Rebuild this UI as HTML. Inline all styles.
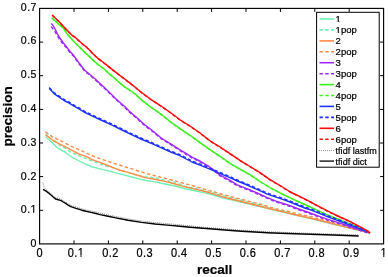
<!DOCTYPE html>
<html><head><meta charset="utf-8"><style>
html,body{margin:0;padding:0;background:#fff;width:388px;height:277px;overflow:hidden}
svg{display:block}
#w{will-change:transform;width:388px;height:277px;background:#fff}
text{font-family:"Liberation Sans",sans-serif;fill:#000;stroke:#000;stroke-width:0.22px}
</style></head><body>
<div id="w"><svg width="388" height="277" viewBox="0 0 388 277">
<rect x="0" y="0" width="388" height="277" fill="#fff"/>

<polyline points="45.5,136.8 50.0,140.5 54.0,144.6 56.9,147.5 61.2,150.2 64.8,152.0 72.0,157.3 76.3,159.5 84.0,163.3 92.0,166.8 99.2,168.6 106.4,170.4 112.0,171.9 120.0,173.9 130.0,176.5 140.0,179.1 145.0,180.2 155.0,181.9 165.0,184.0 175.0,186.0 185.0,188.7 195.0,190.8 205.0,192.9 215.0,195.5 225.0,198.6 235.0,200.6 245.0,203.0 255.0,205.4 265.0,207.9 272.0,209.6 282.0,211.9 292.0,214.3 302.0,216.6 310.0,218.3 325.0,222.1 340.0,225.9 355.0,229.4 370.0,232.9" fill="none" stroke="#6ef0b4" stroke-width="1.4" stroke-linejoin="round"/>
<polyline points="45.5,132.5 51.6,136.1 54.6,140.6 59.2,144.7 65.2,148.2 69.3,151.4 78.0,155.4 88.0,159.5 98.0,163.1 105.0,165.8 115.0,168.4 125.0,171.5 135.0,174.6 145.0,176.8 155.0,177.8 165.0,180.4 175.0,182.4 185.0,186.2 195.0,188.2 205.0,190.8 215.0,193.4 225.0,196.1 235.0,198.8 245.0,201.3 255.0,203.8 265.0,206.3 272.0,208.6 282.0,211.0 292.0,213.5 302.0,216.0 310.0,217.8 325.0,221.7 340.0,225.6 355.0,229.2 370.0,232.9" fill="none" stroke="#6ef0b4" stroke-width="1.4" stroke-dasharray="3.4 2.4" stroke-linejoin="round"/>
<polyline points="45.5,134.6 52.1,139.8 54.0,141.2 61.2,144.8 68.4,148.4 74.0,151.5 79.2,154.1 86.4,156.6 92.0,159.6 99.2,162.1 106.4,165.0 112.0,167.2 120.0,170.3 130.0,172.9 140.0,176.0 145.0,177.6 155.0,179.3 165.0,181.4 175.0,184.0 185.0,186.8 195.0,189.1 205.0,191.5 215.0,194.4 225.0,197.5 235.0,200.0 245.0,202.5 255.0,205.0 265.0,207.5 272.0,209.3 282.0,211.6 292.0,214.0 302.0,216.2 310.0,218.0 325.0,221.8 340.0,225.6 355.0,229.2 370.0,232.9" fill="none" stroke="#ff8c46" stroke-width="1.4" stroke-linejoin="round"/>
<polyline points="45.5,131.8 52.1,136.6 57.2,139.1 62.2,141.6 67.3,144.2 72.0,146.7 78.0,149.2 88.0,153.9 98.0,158.0 105.0,160.3 115.0,163.7 125.0,166.8 135.0,169.9 145.0,173.1 155.0,175.7 165.0,178.3 175.0,180.9 185.0,183.7 195.0,186.4 205.0,189.3 215.0,192.2 225.0,195.1 235.0,197.7 245.0,200.3 255.0,202.9 265.0,205.4 272.0,207.8 280.0,209.6 292.0,212.4 302.0,214.8 310.0,216.4 325.0,220.6 340.0,224.8 355.0,228.6 370.0,232.9" fill="none" stroke="#ff8c46" stroke-width="1.4" stroke-dasharray="3.4 2.4" stroke-linejoin="round"/>
<polyline points="51.4,23.4 54.7,28.2 57.3,33.6 60.2,38.5 63.0,42.5 66.0,46.2 70.0,51.5 73.6,55.3 78.7,62.5 84.4,70.0 91.7,76.0 95.0,78.8 100.0,83.6 105.2,88.2 110.0,92.9 115.5,98.4 120.0,102.4 125.2,107.0 130.0,111.9 135.5,116.5 140.0,120.6 144.7,124.8 151.9,130.2 161.2,138.0 170.7,143.8 179.3,149.4 188.0,154.6 192.0,157.2 200.7,161.5 209.3,166.7 216.3,171.9 220.0,175.1 228.7,179.7 237.3,184.9 246.0,188.4 250.0,190.0 258.7,193.7 267.3,197.6 276.0,201.1 280.0,202.5 288.7,205.2 297.3,208.5 306.0,211.5 310.0,213.0 318.7,216.1 327.3,219.2 340.0,223.1 348.7,226.0 357.3,228.8 370.0,232.9" fill="none" stroke="#a028ff" stroke-width="1.4" stroke-linejoin="round"/>
<polyline points="51.1,26.6 54.5,30.6 57.2,35.5 60.1,40.1 62.9,43.9 66.0,47.4 70.0,52.5 73.6,56.2 78.7,63.4 84.4,70.8 91.7,76.8 95.0,79.6 100.0,84.4 105.2,89.0 110.0,93.7 115.5,99.2 120.0,103.2 125.2,107.8 130.0,112.7 135.5,117.3 140.0,121.4 144.7,125.6 151.9,131.0 161.2,138.8 170.7,144.6 179.3,150.2 188.0,155.4 192.0,158.0 200.7,162.3 209.3,167.5 216.3,172.7 220.0,175.9 228.7,180.5 237.3,185.7 246.0,189.2 250.0,190.8 258.7,194.5 267.3,198.4 276.0,201.9 280.0,203.3 288.7,206.0 297.3,209.3 306.0,212.3 310.0,213.8 318.7,216.9 327.3,220.0 340.0,223.9 348.7,226.8 357.3,229.6 370.0,233.7" fill="none" stroke="#a028ff" stroke-width="1.4" stroke-dasharray="3.4 2.4" stroke-linejoin="round"/>
<polyline points="51.8,17.7 58.0,23.4 63.8,28.5 67.3,34.0 70.3,37.5 73.3,40.9 78.5,46.1 82.5,50.0 86.2,53.9 89.2,56.3 93.2,60.4 98.0,64.5 103.5,68.5 108.6,73.3 115.0,78.5 120.0,83.1 125.0,87.1 130.0,90.3 135.0,93.8 140.0,98.6 150.0,106.5 160.0,113.3 170.0,121.5 180.0,128.6 190.0,135.3 200.0,142.6 210.0,149.6 220.0,156.3 230.0,163.4 240.0,169.1 250.0,174.7 260.0,181.5 270.0,187.5 280.0,192.8 288.7,197.2 297.3,201.1 306.0,205.0 310.0,206.8 318.7,210.9 327.3,214.8 340.0,220.0 348.7,223.4 357.3,226.8 370.0,232.9" fill="none" stroke="#3cf01e" stroke-width="1.4" stroke-linejoin="round"/>
<polyline points="51.8,17.9 58.0,23.6 63.8,28.7 67.3,34.2 70.3,37.7 73.3,41.1 78.5,46.3 82.5,50.2 86.2,54.1 89.2,56.5 93.2,60.6 98.0,64.7 103.5,68.7 108.6,73.5 115.0,78.7 120.0,83.3 125.0,87.3 130.0,90.5 135.0,94.0 140.0,98.8 150.0,106.7 160.0,113.5 170.0,121.7 180.0,128.8 190.0,135.5 200.0,142.8 210.0,149.8 220.0,156.5 230.0,163.6 240.0,169.3 250.0,174.9 260.0,181.7 270.0,187.7 280.0,193.0 288.7,197.4 297.3,201.3 306.0,205.2 310.0,207.0 318.7,211.1 327.3,215.0 340.0,220.2 348.7,223.6 357.3,227.0 370.0,233.1" fill="none" stroke="#3cf01e" stroke-width="1.4" stroke-dasharray="3.4 2.4" stroke-linejoin="round"/>
<polyline points="49.2,88.6 54.3,93.8 59.5,97.4 64.0,100.5 68.7,102.8 74.0,106.2 79.0,108.9 84.0,112.0 92.0,115.9 102.0,120.5 112.0,125.1 122.0,130.0 132.0,134.9 142.0,139.5 152.0,143.6 162.0,148.2 170.7,152.0 179.3,155.3 186.3,159.0 192.0,162.0 200.7,165.4 209.3,168.9 218.0,172.6 228.7,177.1 237.3,181.0 246.0,184.5 250.0,186.3 258.7,190.2 267.3,194.1 276.0,197.2 280.0,198.4 288.7,201.5 297.3,205.0 306.0,208.5 310.0,209.7 318.7,213.1 327.3,216.6 340.0,221.3 348.7,224.6 357.3,227.8 370.0,232.9" fill="none" stroke="#1e32ff" stroke-width="1.4" stroke-linejoin="round"/>
<polyline points="49.2,87.6 54.3,92.8 59.5,96.4 64.0,99.5 68.7,101.8 74.0,105.2 79.0,107.9 84.0,111.0 92.0,114.9 102.0,119.5 112.0,124.1 122.0,129.0 132.0,133.9 142.0,138.5 152.0,142.6 162.0,147.2 170.7,151.0 179.3,154.3 186.3,158.0 192.0,161.0 200.7,164.4 209.3,167.9 218.0,171.6 228.7,176.1 237.3,180.0 246.0,183.5 250.0,185.3 258.7,189.2 267.3,193.1 276.0,196.2 280.0,197.4 288.7,200.5 297.3,204.0 306.0,207.5 310.0,208.7 318.7,212.1 327.3,215.6 340.0,220.3 348.7,223.6 357.3,226.8 370.0,231.9" fill="none" stroke="#1e32ff" stroke-width="1.4" stroke-dasharray="3.4 2.4" stroke-linejoin="round"/>
<polyline points="52.1,14.9 55.5,18.2 59.4,22.0 65.2,28.3 72.3,35.4 74.5,36.8 77.3,39.2 82.0,43.6 86.4,47.0 90.0,50.6 93.3,54.0 98.0,58.4 103.5,62.5 108.0,66.1 112.7,69.9 116.9,73.1 125.0,79.3 130.0,83.1 135.0,87.0 140.0,91.3 145.0,95.0 150.0,98.8 160.0,105.3 170.0,112.3 180.0,119.8 190.0,126.0 200.0,133.0 210.0,140.8 220.0,147.0 230.0,153.6 240.0,160.3 250.0,166.5 260.0,172.7 270.0,179.6 280.0,185.5 290.4,192.0 300.0,196.7 310.0,201.6 313.5,203.6 327.3,210.9 340.0,217.0 348.7,220.9 357.3,225.3 366.0,230.0 370.0,232.9" fill="none" stroke="#ff0a0a" stroke-width="1.4" stroke-linejoin="round"/>
<polyline points="52.1,15.1 55.5,18.4 59.4,22.2 65.2,28.5 72.3,35.6 74.5,37.0 77.3,39.4 82.0,43.8 86.4,47.2 90.0,50.8 93.3,54.2 98.0,58.6 103.5,62.7 108.0,66.3 112.7,70.1 116.9,73.3 125.0,79.5 130.0,83.3 135.0,87.2 140.0,91.5 145.0,95.2 150.0,99.0 160.0,105.5 170.0,112.5 180.0,120.0 190.0,126.2 200.0,133.2 210.0,141.0 220.0,147.2 230.0,153.8 240.0,160.5 250.0,166.7 260.0,172.9 270.0,179.8 280.0,185.7 290.4,192.2 300.0,196.9 310.0,201.8 313.5,203.8 327.3,211.1 340.0,217.2 348.7,221.1 357.3,225.5 366.0,230.2 370.0,233.1" fill="none" stroke="#ff0a0a" stroke-width="1.4" stroke-dasharray="3.4 2.4" stroke-linejoin="round"/>
<polyline points="43.0,182.5 43.6,185.2 44.2,187.6 46.1,189.7 50.1,192.8 55.5,197.6 61.2,199.2 63.2,200.6 66.0,202.3 68.5,203.9 71.5,205.4 76.0,207.0 81.8,208.8 86.0,209.9 91.0,211.0 96.0,212.1 100.0,213.2 108.0,214.9 115.8,216.5 128.0,218.9 141.5,221.0 155.0,222.6 167.3,223.7 180.0,224.9 190.0,225.8 203.0,227.2 215.8,228.2 228.0,229.2 241.5,230.2 255.0,231.0 267.3,231.7 280.0,232.2 295.0,232.8 310.0,233.3 325.0,233.8 340.0,234.2 358.7,235.0" fill="none" stroke="#777" stroke-width="0.9" stroke-dasharray="1 1" stroke-linejoin="round"/>
<polyline points="43.0,189.3 46.1,191.1 50.1,194.2 55.5,199.0 61.2,200.6 63.2,202.0 66.0,203.7 68.5,205.3 71.5,206.8 76.0,208.4 81.8,210.2 86.0,211.3 91.0,212.4 96.0,213.5 100.0,214.6 108.0,216.3 115.8,217.9 128.0,220.3 141.5,222.4 155.0,224.0 167.3,225.1 180.0,226.3 190.0,227.2 203.0,228.2 215.8,229.2 228.0,230.2 241.5,231.2 255.0,232.0 267.3,232.7 280.0,233.2 295.0,233.8 310.0,234.3 325.0,234.8 340.0,235.2 358.7,236.0" fill="none" stroke="#000" stroke-width="1.4" stroke-linejoin="round"/>
<rect x="39.6" y="8.4" width="344.0" height="235.5" fill="none" stroke="#000" stroke-width="1.15"/>
<path d="M74.0 243.9V240.4M74.0 8.4V11.9M108.4 243.9V240.4M108.4 8.4V11.9M142.8 243.9V240.4M142.8 8.4V11.9M177.2 243.9V240.4M177.2 8.4V11.9M211.6 243.9V240.4M211.6 8.4V11.9M246.0 243.9V240.4M246.0 8.4V11.9M280.4 243.9V240.4M280.4 8.4V11.9M314.8 243.9V240.4M314.8 8.4V11.9M349.2 243.9V240.4M349.2 8.4V11.9M39.6 210.3H43.1M383.6 210.3H380.1M39.6 176.6H43.1M383.6 176.6H380.1M39.6 143.0H43.1M383.6 143.0H380.1M39.6 109.4H43.1M383.6 109.4H380.1M39.6 75.7H43.1M383.6 75.7H380.1M39.6 42.1H43.1M383.6 42.1H380.1" stroke="#000" stroke-width="1" fill="none"/>
<text transform="translate(39.83,256.80) scale(0.900,1)" font-size="12.2" letter-spacing="0.50" text-anchor="middle">0</text>
<text transform="translate(76.02,256.80) scale(0.900,1)" font-size="12.2" letter-spacing="0.50" text-anchor="middle">0.1</text>
<text transform="translate(110.42,256.80) scale(0.900,1)" font-size="12.2" letter-spacing="0.50" text-anchor="middle">0.2</text>
<text transform="translate(144.83,256.80) scale(0.900,1)" font-size="12.2" letter-spacing="0.50" text-anchor="middle">0.3</text>
<text transform="translate(179.22,256.80) scale(0.900,1)" font-size="12.2" letter-spacing="0.50" text-anchor="middle">0.4</text>
<text transform="translate(213.62,256.80) scale(0.900,1)" font-size="12.2" letter-spacing="0.50" text-anchor="middle">0.5</text>
<text transform="translate(248.03,256.80) scale(0.900,1)" font-size="12.2" letter-spacing="0.50" text-anchor="middle">0.6</text>
<text transform="translate(282.43,256.80) scale(0.900,1)" font-size="12.2" letter-spacing="0.50" text-anchor="middle">0.7</text>
<text transform="translate(316.83,256.80) scale(0.900,1)" font-size="12.2" letter-spacing="0.50" text-anchor="middle">0.8</text>
<text transform="translate(351.23,256.80) scale(0.900,1)" font-size="12.2" letter-spacing="0.50" text-anchor="middle">0.9</text>
<text transform="translate(383.83,256.80) scale(0.900,1)" font-size="12.2" letter-spacing="0.50" text-anchor="middle">1</text>
<text transform="translate(36.95,247.10) scale(0.900,1)" font-size="11.8" letter-spacing="0.50" text-anchor="end">0</text>
<text transform="translate(36.95,213.30) scale(0.900,1)" font-size="11.8" letter-spacing="0.50" text-anchor="end">0.1</text>
<text transform="translate(36.95,179.50) scale(0.900,1)" font-size="11.8" letter-spacing="0.50" text-anchor="end">0.2</text>
<text transform="translate(36.95,145.70) scale(0.900,1)" font-size="11.8" letter-spacing="0.50" text-anchor="end">0.3</text>
<text transform="translate(36.95,111.90) scale(0.900,1)" font-size="11.8" letter-spacing="0.50" text-anchor="end">0.4</text>
<text transform="translate(36.95,78.10) scale(0.900,1)" font-size="11.8" letter-spacing="0.50" text-anchor="end">0.5</text>
<text transform="translate(36.95,44.30) scale(0.900,1)" font-size="11.8" letter-spacing="0.50" text-anchor="end">0.6</text>
<text transform="translate(36.95,10.50) scale(0.900,1)" font-size="11.8" letter-spacing="0.50" text-anchor="end">0.7</text>
<text x="214.6" y="273.6" font-size="13.5" font-weight="bold" text-anchor="middle">recall</text>
<text transform="translate(11.6,116.4) rotate(-90)" x="0" y="0" font-size="13.6" font-weight="bold" text-anchor="middle">precision</text>
<rect x="316.6" y="12.3" width="62.6" height="154.9" fill="#fff" stroke="#000" stroke-width="1"/>
<line x1="319.5" y1="19.0" x2="334" y2="19.0" stroke="#6ef0b4" stroke-width="1.6"/>
<text x="335.6" y="22.4" font-size="9.5">1</text>
<line x1="319.5" y1="29.9" x2="334" y2="29.9" stroke="#6ef0b4" stroke-width="1.6" stroke-dasharray="3.4 2.4"/>
<text x="335.6" y="33.3" font-size="9.5">1pop</text>
<line x1="319.5" y1="40.9" x2="334" y2="40.9" stroke="#ff8c46" stroke-width="1.6"/>
<text x="335.6" y="44.3" font-size="9.5">2</text>
<line x1="319.5" y1="51.8" x2="334" y2="51.8" stroke="#ff8c46" stroke-width="1.6" stroke-dasharray="3.4 2.4"/>
<text x="335.6" y="55.2" font-size="9.5">2pop</text>
<line x1="319.5" y1="62.7" x2="334" y2="62.7" stroke="#a028ff" stroke-width="1.6"/>
<text x="335.6" y="66.1" font-size="9.5">3</text>
<line x1="319.5" y1="73.7" x2="334" y2="73.7" stroke="#a028ff" stroke-width="1.6" stroke-dasharray="3.4 2.4"/>
<text x="335.6" y="77.1" font-size="9.5">3pop</text>
<line x1="319.5" y1="84.6" x2="334" y2="84.6" stroke="#3cf01e" stroke-width="1.6"/>
<text x="335.6" y="88.0" font-size="9.5">4</text>
<line x1="319.5" y1="95.5" x2="334" y2="95.5" stroke="#3cf01e" stroke-width="1.6" stroke-dasharray="3.4 2.4"/>
<text x="335.6" y="98.9" font-size="9.5">4pop</text>
<line x1="319.5" y1="106.4" x2="334" y2="106.4" stroke="#1e32ff" stroke-width="1.6"/>
<text x="335.6" y="109.8" font-size="9.5">5</text>
<line x1="319.5" y1="117.4" x2="334" y2="117.4" stroke="#1e32ff" stroke-width="1.6" stroke-dasharray="3.4 2.4"/>
<text x="335.6" y="120.8" font-size="9.5">5pop</text>
<line x1="319.5" y1="128.3" x2="334" y2="128.3" stroke="#ff0a0a" stroke-width="1.6"/>
<text x="335.6" y="131.7" font-size="9.5">6</text>
<line x1="319.5" y1="139.2" x2="334" y2="139.2" stroke="#ff0a0a" stroke-width="1.6" stroke-dasharray="3.4 2.4"/>
<text x="335.6" y="142.6" font-size="9.5">6pop</text>
<line x1="319" y1="150.5" x2="334" y2="150.5" stroke="#999" stroke-width="1" stroke-dasharray="1 1"/>
<text x="335.6" y="153.6" font-size="9.5" textLength="41.2" lengthAdjust="spacingAndGlyphs">tfidf lastfm</text>
<line x1="319.5" y1="161.1" x2="334" y2="161.1" stroke="#000" stroke-width="1.3"/>
<text x="335.6" y="164.5" font-size="9.5" textLength="31.2" lengthAdjust="spacingAndGlyphs">tfidf dict</text>
<g transform="translate(76.02,256.80) scale(0.900,1)"><rect x="1.926" y="-1.361" width="3.052" height="2.161" fill="#fff"/><rect x="6.096" y="-1.361" width="2.987" height="2.161" fill="#fff"/></g>
<g transform="translate(383.83,256.80) scale(0.900,1)"><rect x="-3.651" y="-1.361" width="3.052" height="2.161" fill="#fff"/><rect x="0.520" y="-1.361" width="2.987" height="2.161" fill="#fff"/></g>
<g transform="translate(36.95,213.30) scale(0.900,1)"><rect x="-7.103" y="-1.332" width="2.971" height="2.132" fill="#fff"/><rect x="-3.049" y="-1.332" width="2.908" height="2.132" fill="#fff"/></g>
<g><rect x="335.464" y="21.240" width="2.505" height="1.960" fill="#fff"/><rect x="338.849" y="21.240" width="2.347" height="1.960" fill="#fff"/></g>
<g><rect x="335.464" y="32.140" width="2.505" height="1.960" fill="#fff"/><rect x="338.849" y="32.140" width="2.347" height="1.960" fill="#fff"/></g>
</svg></div></body></html>
